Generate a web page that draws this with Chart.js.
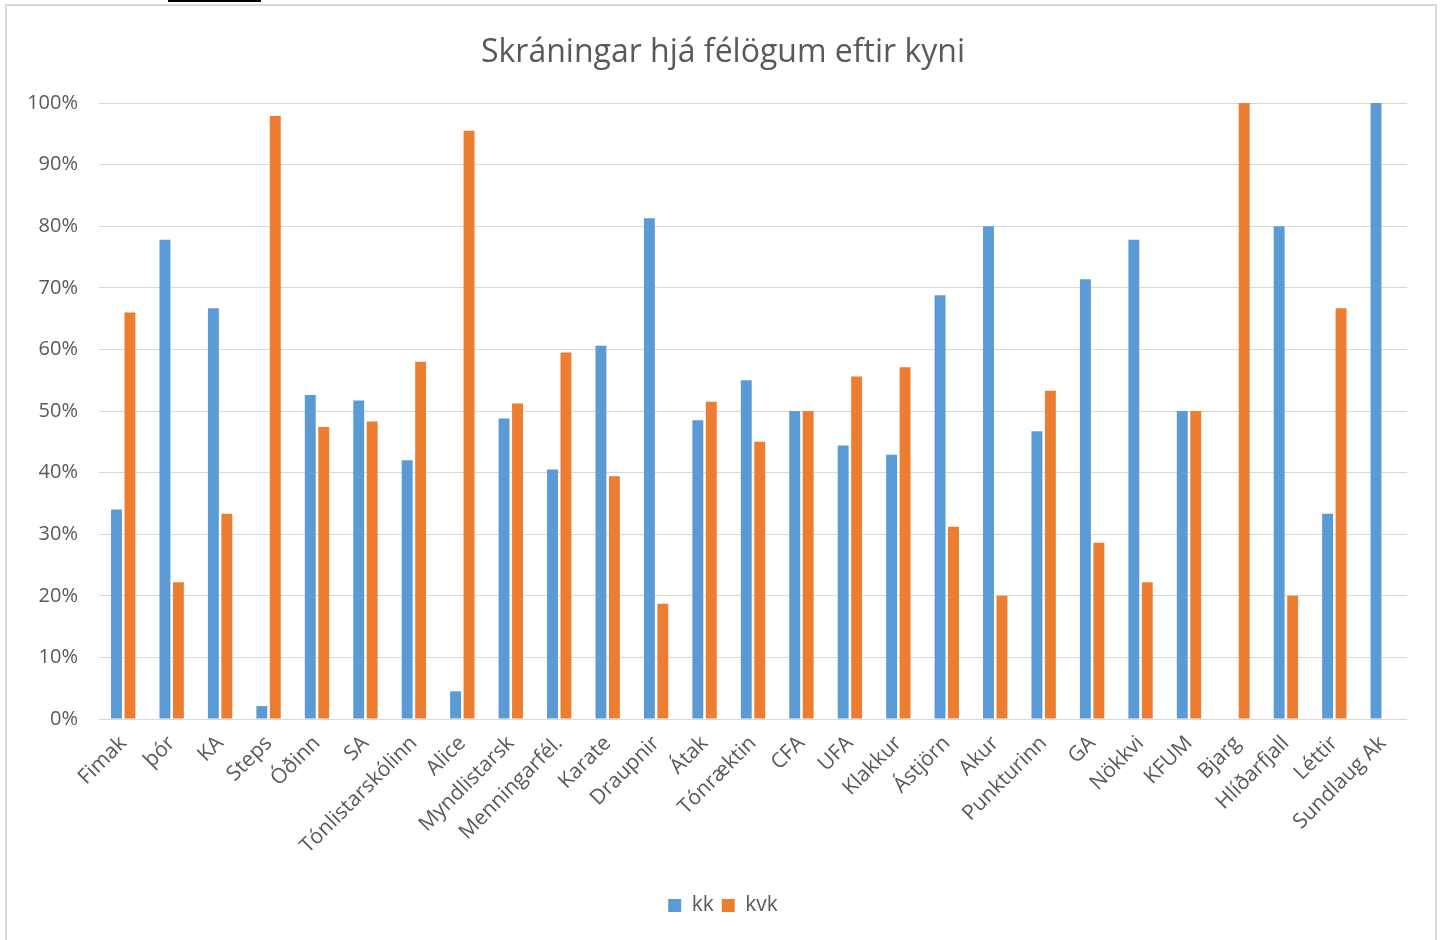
<!DOCTYPE html>
<html>
<head>
<meta charset="utf-8">
<script src="https://cdn.jsdelivr.net/npm/chart.js@4.4.1/dist/chart.umd.min.js"></script>
<style>
  html, body { margin: 0; padding: 0; background: #ffffff; }
  body { width: 1445px; height: 940px; position: relative; overflow: hidden; }
  #frame { position: absolute; left: 5px; top: 4px; width: 1428px; height: 940px; border: 2px solid #d9d9d9; border-bottom: none; background: #fff; }
  #wrap { position: absolute; left: 0; top: 0; width: 1428px; height: 934px; }
  #topline { position: absolute; left: 168px; top: 0; width: 93px; height: 2px; background: #000; }
</style>
</head>
<body>
<div id="topline"></div>
<div id="frame"><div id="wrap"><canvas id="c"></canvas></div></div>
<script>
const categories = ["Fimak","þór","KA","Steps","Óðinn","SA","Tónlistarskólinn","Alice","Myndlistarsk","Menningarfél.","Karate","Draupnir","Átak","Tónræktin","CFA","UFA","Klakkur","Ástjörn","Akur","Punkturinn","GA","Nökkvi","KFUM","Bjarg","Hlíðarfjall","Léttir","Sundlaug Ak"];
const kk  = [34.0, 77.8, 66.7, 2.1, 52.6, 51.7, 42.0, 4.5, 48.8, 40.5, 60.6, 81.3, 48.5, 55.0, 50.0, 44.4, 42.9, 68.8, 80.0, 46.7, 71.4, 77.8, 50.0, 0, 80.0, 33.3, 100];
const kvk = [66.0, 22.2, 33.3, 97.9, 47.4, 48.3, 58.0, 95.5, 51.2, 59.5, 39.4, 18.7, 51.5, 45.0, 50.0, 55.6, 57.1, 31.2, 20.0, 53.3, 28.6, 22.2, 50.0, 100, 20.0, 66.7, 0];
const yTicks = [0,10,20,30,40,50,60,70,80,90,100];
const seriesNames = ["kk","kvk"];

const FONT = "'Open Sans', 'Liberation Sans', sans-serif";
const TXT = "#595959";

const centerShift = {
  id: 'centerShift',
  afterLayout(chart) {
    if (chart.legend) chart.legend.left += 32;
    if (chart.titleBlock) chart.titleBlock.left += 32;
  }
};

new Chart(document.getElementById('c'), {
  type: 'bar',
  data: {
    labels: categories,
    datasets: [
      { label: seriesNames[0], data: kk, backgroundColor: '#5B9BD5', categoryPercentage: 0.556, barPercentage: 0.81 },
      { label: seriesNames[1], data: kvk, backgroundColor: '#ED7D31', categoryPercentage: 0.556, barPercentage: 0.81 }
    ]
  },
  plugins: [centerShift],
  options: {
    responsive: true,
    maintainAspectRatio: false,
    animation: false,
    layout: { padding: { left: 0, right: 28, top: 0, bottom: 14 } },
    plugins: {
      title: {
        display: true,
        text: 'Skráningar hjá félögum eftir kyni',
        color: TXT,
        font: { family: FONT, size: 32, weight: 'normal' },
        padding: { top: 28, bottom: 30.6 }
      },
      legend: {
        position: 'bottom',
        labels: {
          color: TXT,
          font: { family: FONT, size: 21 },
          boxWidth: 13, boxHeight: 13,
          padding: 8
        }
      },
      tooltip: { enabled: false }
    },
    scales: {
      x: {
        grid: { display: false, drawTicks: false },
        border: { display: false },
        ticks: {
          color: TXT,
          font: { family: FONT, size: 21 },
          minRotation: 45, maxRotation: 45,
          autoSkip: false,
          padding: 12
        },
        afterFit: (s) => { s.height = 168; }
      },
      y: {
        min: 0, max: 100,
        afterBuildTicks: (s) => { s.ticks = yTicks.map(v => ({ value: v })); },
        grid: { color: '#d9d9d9', lineWidth: 1, drawTicks: false },
        border: { display: false },
        ticks: {
          color: TXT,
          font: { family: FONT, size: 20 },
          padding: 21,
          callback: (v) => v + '%'
        },
        afterFit: (s) => { s.width = 92; }
      }
    }
  }
});
</script>
</body>
</html>
